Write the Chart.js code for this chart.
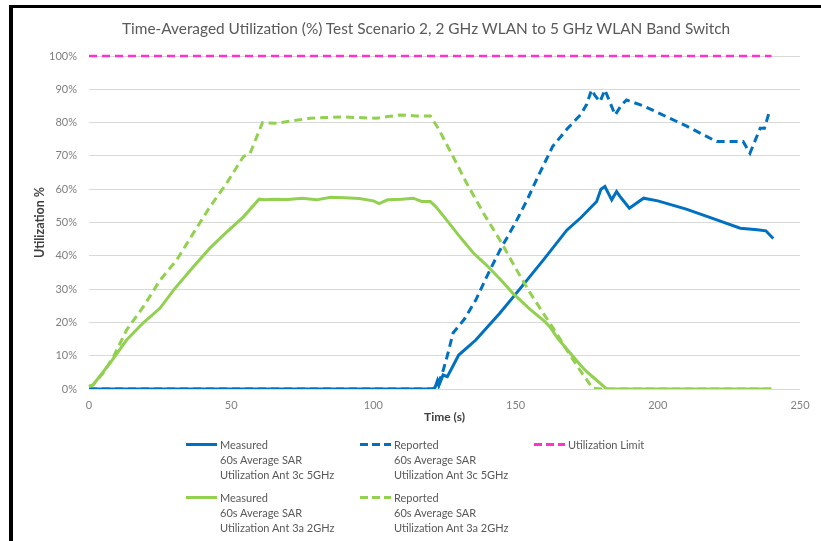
<!DOCTYPE html>
<html>
<head>
<meta charset="utf-8">
<script src="https://cdn.jsdelivr.net/npm/chart.js@4.4.0/dist/chart.umd.min.js"></script>
<style>
  body { margin: 0; background: #fff; }
  #wrap { position: relative; width: 821px; height: 541px; overflow: hidden; }
  #frameLeft { position: absolute; left: 9px; top: 5px; width: 4px; height: 536px; background: #000; }
  #frameTop { position: absolute; left: 9px; top: 5px; width: 812px; height: 3px; background: #000; }
  canvas { position: absolute; left: 0; top: 0; }
  #title { position: absolute; left: 122px; width: 600px; top: 18px; text-align: center; white-space: nowrap;
           font-family: Lato, "Open Sans", sans-serif; font-size: 15.4px; color: #595959; line-height: 20px; }
  .leg { position: absolute; font-family: Lato, "Open Sans", sans-serif; font-size: 11px; color: #595959; line-height: 15px; }
  .leg .sw { position: absolute; left: 0; top: 6px; width: 31px; height: 0; border-top: 3px solid; }
  .leg .tx { position: absolute; left: 34px; top: 0; white-space: nowrap; }
</style>
</head>
<body>
<div id="wrap">
  <canvas id="c" width="821" height="541"></canvas>
  <div id="frameLeft"></div>
  <div id="frameTop"></div>
  <div id="title">Time-Averaged Utilization (%) Test Scenario 2, 2 GHz WLAN to 5 GHz WLAN Band Switch</div>
  <div id="legend"></div>
</div>
<script>
// Measured 60s average SAR, Ant 3c 5GHz
const meas5Time = [0, 60, 121, 121.7, 122.5, 123, 124.5, 126, 130, 136, 144.5, 150, 160, 168, 173, 178.5, 180, 181.4, 183.8, 185.5, 187, 190, 195, 200, 210, 220, 229, 235, 238, 240.6];
const meas5Val  = [0, 0, 0, 0.5, 2.5, 1, 4.2, 3.7, 10.2, 14.7, 22.8, 28.5, 39, 47.7, 51.5, 56.3, 60, 60.8, 56.8, 59.3, 57.5, 54.3, 57.3, 56.5, 54, 51, 48.3, 47.8, 47.5, 45.2];

// Reported 60s average SAR, Ant 3c 5GHz
const rep5Time = [0, 60, 121, 122, 124, 126, 128, 132, 136, 140, 144.5, 150, 154, 158, 163, 168, 173, 175, 176.7, 178, 179.7, 181.4, 185, 187, 189, 195, 200, 210, 220.7, 230, 232.4, 236, 237.5, 239.4];
const rep5Val  = [0, 0, 0, 1, 4, 10, 16.8, 21, 26.7, 34, 41.7, 50, 56.7, 64, 72.8, 78, 82.5, 85.5, 89.8, 88, 86.3, 89.8, 82.3, 85, 86.8, 85, 83, 79, 74.3, 74.3, 70.8, 78.3, 78.3, 83.8];

// Utilization limit
const limitTime = [0, 240];
const limitVal  = [100, 100];

// Measured 60s average SAR, Ant 3a 2GHz
const meas2Time = [0, 1.4, 7.4, 13.2, 19, 25, 30, 36.7, 42.5, 48, 54.3, 59.8, 62, 65, 70, 75, 80, 85, 90, 95, 100, 102, 105, 110, 114, 117, 120, 122, 126, 130.4, 135, 140, 145, 149, 155, 160, 162, 165, 170, 173, 175, 178, 182, 190, 200, 210, 220, 230, 240];
const meas2Val  = [0.8, 1.2, 7.8, 14.7, 19.8, 24.3, 30, 36.7, 42.3, 46.8, 51.7, 57, 56.8, 57, 56.9, 57.3, 56.8, 57.6, 57.4, 57.2, 56.5, 55.7, 56.8, 57, 57.3, 56.3, 56.3, 54.7, 50.5, 45.7, 41, 37, 32.6, 28.8, 24, 20.5, 18.7, 15, 10, 7, 5.2, 3, 0, 0, 0, 0, 0, 0, 0];

// Reported 60s average SAR, Ant 3a 2GHz
const rep2Time = [0, 1.4, 5, 8.6, 13.2, 19.1, 25, 30.8, 36.7, 42.5, 48.4, 54.3, 56.6, 61, 66, 72, 77.7, 83, 89.4, 95, 101, 105, 109.4, 115, 120, 123, 128, 132.8, 138.7, 144.5, 150.4, 155, 159.7, 164.4, 168, 172.6, 177, 180, 190, 200, 210, 220, 230, 240];
const rep2Val  = [0.8, 1.2, 4.8, 9.7, 17.7, 24.7, 32.7, 38.7, 46.8, 54.7, 61.8, 69.8, 70.7, 80, 79.8, 80.6, 81.3, 81.5, 81.7, 81.5, 81.3, 81.8, 82.3, 82, 82, 78, 69.8, 61.8, 52.8, 44.7, 35.7, 29, 22.8, 16.7, 11.7, 5.7, 0.3, 0, 0, 0, 0, 0, 0, 0];

const xTicks = [0, 50, 100, 150, 200, 250];
const yTicks = [0, 10, 20, 30, 40, 50, 60, 70, 80, 90, 100];

const blue = '#0070C0';
const green = '#92D050';
const pink = '#FF33CC';

function pts(t, v) {
  return t.map((x, i) => ({ x: x, y: v[i] }));
}

const datasets = [
  { label: ['Measured', '60s Average SAR', 'Utilization Ant 3c 5GHz'], data: pts(meas5Time, meas5Val), borderColor: blue, dash: [] },
  { label: ['Reported', '60s Average SAR', 'Utilization Ant 3c 5GHz'], data: pts(rep5Time, rep5Val), borderColor: blue, dash: [8, 5] },
  { label: ['Utilization Limit'], data: pts(limitTime, limitVal), borderColor: pink, dash: [8, 5] },
  { label: ['Measured', '60s Average SAR', 'Utilization Ant 3a 2GHz'], data: pts(meas2Time, meas2Val), borderColor: green, dash: [] },
  { label: ['Reported', '60s Average SAR', 'Utilization Ant 3a 2GHz'], data: pts(rep2Time, rep2Val), borderColor: green, dash: [8, 5] }
];

const chart = new Chart(document.getElementById('c'), {
  type: 'line',
  data: {
    datasets: datasets.map((d, i) => ({
      label: d.label.join(' '),
      data: d.data,
      borderColor: d.borderColor,
      backgroundColor: d.borderColor,
      borderDash: d.dash,
      borderWidth: i === 2 ? 2.5 : 3,
      pointRadius: 0,
      tension: 0,
      fill: false,
      clip: { left: 6, right: 6, top: 6, bottom: 0 },
      order: 5 - i
    }))
  },
  options: {
    responsive: false,
    animation: false,
    layout: { padding: { left: 20, right: 21, top: 56, bottom: 117 } },
    plugins: {
      legend: { display: false },
      tooltip: { enabled: false },
      title: { display: false }
    },
    scales: {
      x: {
        type: 'linear',
        min: 0,
        max: 250,
        afterBuildTicks: s => { s.ticks = xTicks.map(v => ({ value: v })); },
        afterFit: s => { s.height = 35; },
        grid: { display: false, drawTicks: false },
        border: { display: false },
        ticks: { color: '#7f7f7f', padding: 10, maxRotation: 0, font: { family: 'Lato, "Open Sans", sans-serif', size: 11 } },
        title: { display: true, text: 'Time (s)', color: '#404040', padding: { top: 2, bottom: 0 }, font: { family: 'Lato, "Open Sans", sans-serif', size: 12, weight: 'bold' } }
      },
      y: {
        min: 0,
        max: 100,
        afterBuildTicks: s => { s.ticks = yTicks.map(v => ({ value: v })); },
        afterFit: s => { s.width = 69; },
        grid: { color: '#d9d9d9', lineWidth: 1, drawTicks: false },
        border: { display: false },
        ticks: { color: '#7f7f7f', padding: 12, callback: v => v + '%', font: { family: 'Lato, "Open Sans", sans-serif', size: 11 } },
        title: { display: true, text: 'Utilization %', color: '#404040', padding: { top: 12, bottom: 0 }, font: { family: 'Lato, "Open Sans", sans-serif', size: 12.5, weight: 'bold' } }
      }
    }
  }
});

// legend drawn as HTML so that the labels can wrap onto three lines
const legendPos = [[186, 437], [360, 437], [534, 437], [186, 490], [360, 490]];
const legendBox = document.getElementById('legend');
datasets.forEach((d, i) => {
  const el = document.createElement('div');
  el.className = 'leg';
  el.style.left = legendPos[i][0] + 'px';
  el.style.top = legendPos[i][1] + 'px';
  const sw = document.createElement('div');
  sw.className = 'sw';
  sw.style.borderTopColor = d.borderColor;
  if (d.dash.length) {
    sw.style.borderTop = 'none';
    sw.style.height = '3px';
    sw.style.background = 'repeating-linear-gradient(to right, ' + d.borderColor + ' 0 8px, transparent 8px 12px)';
  }
  el.appendChild(sw);
  const tx = document.createElement('div');
  tx.className = 'tx';
  tx.innerHTML = d.label.join('<br>');
  el.appendChild(tx);
  legendBox.appendChild(el);
});
</script>
</body>
</html>
